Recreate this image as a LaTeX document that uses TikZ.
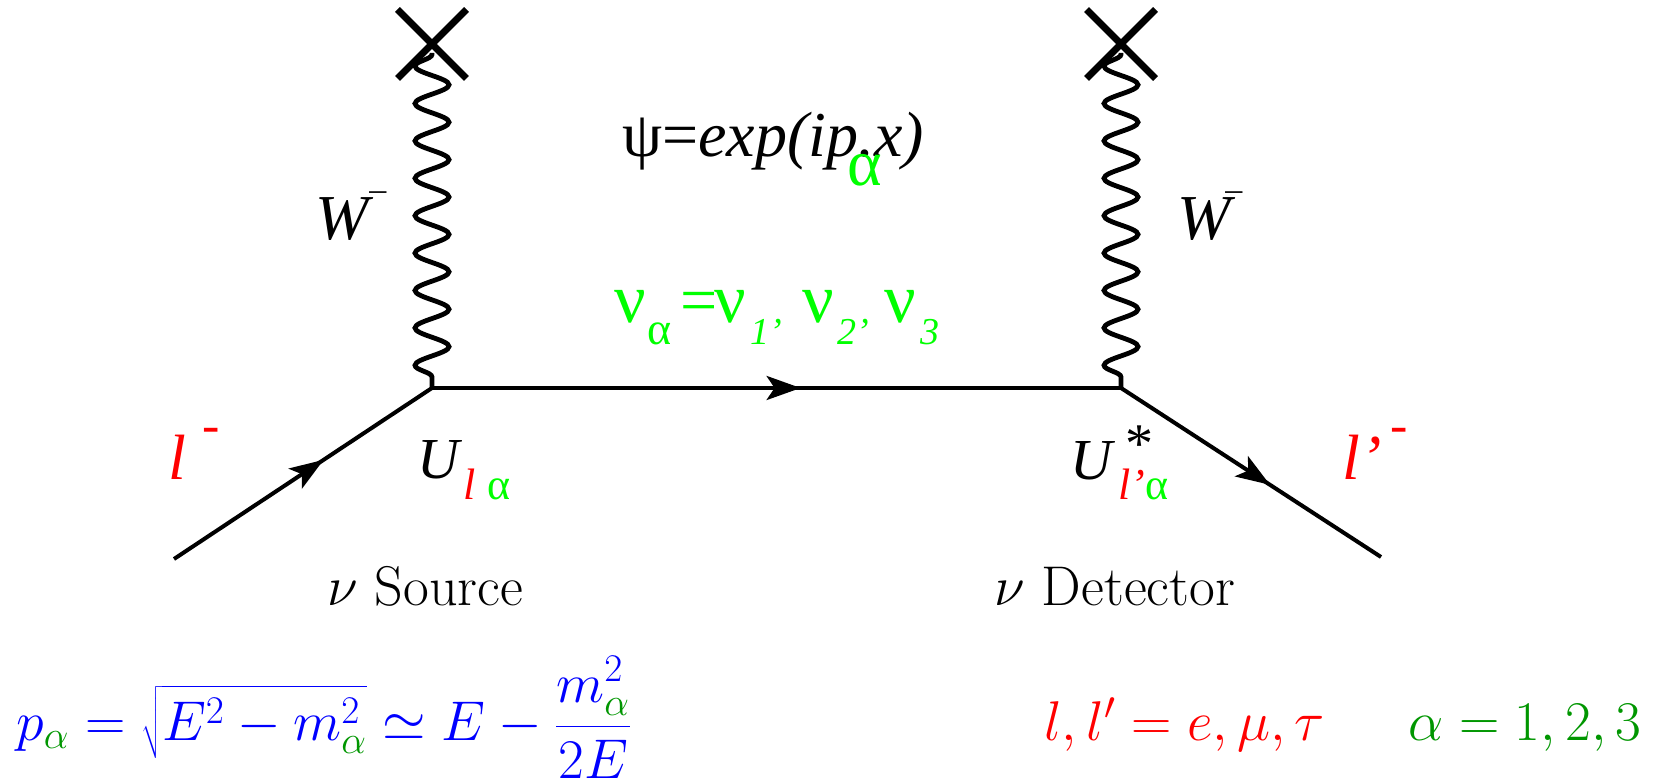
\RequirePackage{fix-cm}
\documentclass[tikz,border=0pt]{standalone}
\usepackage{fontspec}
\newfontfamily\tms{Liberation Serif}[UprightFont={Liberation Serif}, ItalicFont={Liberation Serif Italic}]
\usetikzlibrary{decorations.pathmorphing,decorations.markings,arrows.meta,shapes.misc}
\DeclareMathSizes{28}{28}{19.6}{14}
\definecolor{nugreen}{RGB}{0,255,0}
\definecolor{dgreen}{RGB}{0,150,0}
\newcommand\fsz[1]{\fontsize{#1}{#1}\selectfont}
\begin{document}
\begin{tikzpicture}[x=0.5pt,y=-0.5pt,
  txt/.style={inner sep=0pt, anchor=base west},
  supmark/.style={inner sep=0pt, anchor=north west},
  nubig/.style={txt, text=nugreen, font=\tms\fsz{35}},
  nueqs/.style={txt, text=nugreen, font=\tms\fsz{33}},
  nusub/.style={txt, text=nugreen, font=\tms\fsz{19}},
  nusuba/.style={txt, text=nugreen, font=\tms\fsz{23}},
  fermion/.style={line width=2pt,
    decoration={markings, mark=at position #1 with {\arrow{Stealth[length=17pt,width=12pt,inset=4pt]}}},
    postaction={decorate}},
  photon/.style={line width=2.4pt, decorate,
    decoration={snake, amplitude=8.5pt, segment length=18.7pt, pre length=5.5pt}},
  vtx/.style={draw, cross out, minimum size=31pt, inner sep=0pt, line width=3.5pt}
]
\useasboundingbox (0,0) rectangle (1653,779);
% points
\coordinate (vL) at (432,388);
\coordinate (vR) at (1121,388);
\coordinate (inL) at (174,559);
\coordinate (outR) at (1381,557);
\coordinate (wL) at (432,53);
\coordinate (wR) at (1121,53);
% W lines and crosses
\draw[photon] (vL) -- (wL);
\draw[photon] (vR) -- (wR);
\node[vtx] (xL) at (432,44) {};
\node[vtx] (xR) at (1121,44) {};
% fermion lines
\draw[fermion=0.58] (inL) -- (vL);
\draw[fermion=0.535] (vL) -- (vR);
\draw[fermion=0.573] (vR) -- (outR);
% top texts
\node[txt] (psi) at (622,157) {\tms\fsz{32}ψ=\itshape exp(ip.x)};
\node[txt,text=nugreen] (psialpha) at (847,186) {\tms\fsz{33}α};
% neutrino line
\node[nubig] (nua) at (614,323) {ν};
\node[nusuba] (nuasub) at (647,345) {α};
\node[nueqs] (nueq) at (680,323) {=};
\node[nubig] (nu1) at (714,323) {ν};
\node[nusub] (nu1sub) at (750,345) {\itshape 1’};
\node[nubig] (nu2) at (802,323) {ν};
\node[nusub] (nu2sub) at (837,345) {\itshape 2’};
\node[nubig] (nu3) at (884,323) {ν};
\node[nusub] (nu3sub) at (920,345) {\itshape 3};
% W labels
\node[txt] (WL) at (315,240) {\tms\fsz{32}\itshape W};
\node[supmark] (WLm) at (369,191) {\tms\fsz{17}–};
\node[txt] (WR) at (1177,240) {\tms\fsz{32}\itshape W};
\node[supmark] (WRm) at (1225,191) {\tms\fsz{17}–};
% U labels
\node[txt] (UL) at (417,479) {\tms\fsz{29}\itshape U};
\node[txt] (ULsub) at (463,500) {\tms\fsz{22}\textcolor{red}{\itshape l}\hspace{6pt}\textcolor{nugreen}{α}};
\node[txt] (UR) at (1070,480) {\tms\fsz{29}\itshape U};
\node[supmark] (URstar) at (1125,425) {\tms\fsz{28}*};
\node[txt] (URsub) at (1118,500) {\tms\fsz{22}\textcolor{red}{\itshape l’}\textcolor{nugreen}{α}};
% lepton labels
\node[txt,text=red] (lin) at (168,480) {\tms\fsz{32}\itshape l};
\node[supmark,text=red] (linm) at (202,428) {\tms\fsz{26}-};
\node[txt,text=red] (lout) at (1342,480) {\tms\fsz{32}\itshape l’};
\node[supmark,text=red] (loutm) at (1390,428) {\tms\fsz{26}-};
% source / detector
\node[txt] (src) at (327,606) {\fsz{28}$\nu$ Source};
\node[txt] (det) at (994,606) {\fsz{28}$\nu$ Detector};
% bottom formulas
\node[txt,text=blue] (pform) at (16,740) {\fsz{28}$\displaystyle p_{\textcolor{dgreen}{\alpha}} = \sqrt{E^2-m^2_{\textcolor{dgreen}{\alpha}}} \simeq E - \frac{m^2_{\textcolor{dgreen}{\alpha}}}{2E}$};
\node[txt,text=red] (lform) at (1044,740) {\fsz{28}$l, l' = e, \mu, \tau$};
\node[txt,text=dgreen] (aform) at (1408,740) {\fsz{28}$\alpha = 1, 2, 3$};
\end{tikzpicture}
\end{document}
